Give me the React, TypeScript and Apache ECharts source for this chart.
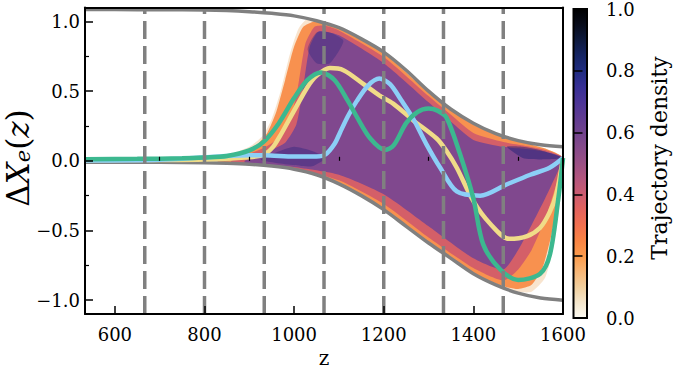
import React, { useEffect, useRef } from 'react';
import * as echarts from 'echarts';

// ---------- data ----------
const xMajor = [600, 800, 1000, 1200, 1400, 1600];
const xMinor = [700, 900, 1100, 1300, 1500];
const yMajor = [-1, -0.5, 0, 0.5, 1];
const yMinor = [-0.75, -0.25, 0.25, 0.75];
const cbTicks = [0, 0.2, 0.4, 0.6, 0.8, 1.0];
const dashZ = [666.7, 800, 933.3, 1066.7, 1200, 1333.3, 1466.7];

const zEnv = [533.3, 600, 700, 800, 850, 900, 950, 1000, 1050, 1100, 1150, 1200, 1250, 1300, 1350, 1400, 1450, 1500, 1550, 1600];
const upperEnv = [1.085, 1.085, 1.084, 1.082, 1.078, 1.07, 1.058, 1.04, 1.005, 0.955, 0.875, 0.78, 0.65, 0.5, 0.37, 0.27, 0.195, 0.145, 0.115, 0.1];
const lowerEnv = [-0.01, -0.01, -0.011, -0.014, -0.018, -0.025, -0.038, -0.06, -0.1, -0.165, -0.25, -0.35, -0.47, -0.59, -0.7, -0.81, -0.89, -0.95, -0.985, -1.0];

const greenCurve = [[533.3, 0.012], [650, 0.014], [750, 0.018], [800, 0.024], [850, 0.035], [900, 0.075], [933, 0.14], [966, 0.27], [1000, 0.45], [1030, 0.58], [1060, 0.634], [1090, 0.58], [1120, 0.43], [1140, 0.315], [1170, 0.16], [1203, 0.078], [1222, 0.11], [1250, 0.27], [1275, 0.35], [1300, 0.375], [1320, 0.36], [1340, 0.31], [1370, 0.05], [1400, -0.27], [1422, -0.6], [1460, -0.78], [1500, -0.855], [1549, -0.81], [1571, -0.67], [1590, -0.26], [1600, 0.02]];
const yellowCurve = [[533.3, 0.004], [700, 0.006], [800, 0.01], [900, 0.025], [933, 0.045], [953, 0.1], [968, 0.175], [1000, 0.36], [1030, 0.53], [1050, 0.61], [1080, 0.665], [1110, 0.65], [1155, 0.55], [1190, 0.47], [1221, 0.41], [1266, 0.29], [1318, 0.16], [1340, 0.07], [1363, -0.05], [1400, -0.29], [1437, -0.45], [1480, -0.56], [1520, -0.54], [1549, -0.48], [1570, -0.37], [1585, -0.24], [1600, 0.02]];
const blueCurve = [[533.3, 0.002], [700, 0.008], [800, 0.025], [850, 0.035], [900, 0.04], [933, 0.04], [1000, 0.03], [1050, 0.03], [1070, 0.045], [1090, 0.12], [1102, 0.2], [1120, 0.32], [1140, 0.43], [1165, 0.54], [1190, 0.59], [1214, 0.55], [1240, 0.43], [1266, 0.3], [1295, 0.12], [1326, -0.05], [1363, -0.22], [1415, -0.25], [1474, -0.17], [1527, -0.1], [1570, -0.05], [1600, 0.02]];

// density regions (outer faint, orange, pink, purple core, dark patches)
const sparseTop = [[800, 0.0], [850, 0.04], [900, 0.1], [930, 0.18], [950, 0.3], [970, 0.5], [990, 0.76], [1010, 0.95], [1030, 1.02], [1067, 0.99], [1100, 0.955], [1200, 0.78], [1300, 0.5], [1400, 0.27], [1467, 0.18], [1520, 0.13], [1560, 0.09], [1600, 0.02]];
const sparseBottom = [[800, -0.012], [900, -0.025], [1000, -0.06], [1100, -0.165], [1200, -0.35], [1300, -0.59], [1400, -0.81], [1467, -0.905], [1500, -0.94], [1530, -0.94], [1560, -0.84], [1580, -0.6], [1595, -0.25], [1600, 0.02]];
const orangeTop = [[830, 0.01], [880, 0.05], [915, 0.11], [940, 0.2], [960, 0.35], [980, 0.58], [1000, 0.82], [1020, 0.96], [1045, 1.0], [1067, 0.985], [1100, 0.95], [1200, 0.772], [1300, 0.493], [1400, 0.263], [1467, 0.173], [1520, 0.125], [1560, 0.088], [1600, 0.02]];
const orangeBottom = [[830, -0.012], [900, -0.025], [1000, -0.06], [1100, -0.165], [1200, -0.35], [1300, -0.59], [1400, -0.81], [1467, -0.9], [1500, -0.92], [1530, -0.89], [1555, -0.76], [1575, -0.52], [1590, -0.26], [1600, 0.02]];
const pinkTop = [[860, 0.0], [900, 0.05], [930, 0.09], [960, 0.15], [990, 0.28], [1008, 0.52], [1025, 0.84], [1045, 0.96], [1067, 0.97], [1100, 0.935], [1200, 0.745], [1300, 0.465], [1350, 0.33], [1400, 0.2], [1467, 0.135], [1520, 0.105], [1560, 0.078], [1600, 0.02]];
const pinkBottom = [[860, -0.02], [950, -0.032], [1000, -0.055], [1100, -0.14], [1200, -0.31], [1300, -0.55], [1400, -0.77], [1467, -0.86], [1500, -0.78], [1530, -0.64], [1560, -0.42], [1582, -0.2], [1600, 0.02]];
const coreTop = [[890, 0.0], [920, 0.04], [950, 0.08], [980, 0.13], [1005, 0.26], [1020, 0.52], [1035, 0.82], [1055, 0.93], [1100, 0.9], [1200, 0.7], [1300, 0.42], [1350, 0.28], [1400, 0.15], [1467, 0.1], [1520, 0.085], [1560, 0.065], [1600, 0.02]];
const coreBottom = [[890, -0.02], [950, -0.03], [1000, -0.045], [1100, -0.1], [1200, -0.24], [1300, -0.47], [1400, -0.7], [1467, -0.78], [1500, -0.64], [1530, -0.46], [1560, -0.27], [1585, -0.1], [1600, 0.02]];
const darkPeakTop = [[1030, 0.8], [1050, 0.92], [1080, 0.92], [1110, 0.86]];
const darkPeakBottom = [[1030, 0.8], [1050, 0.7], [1080, 0.7], [1110, 0.86]];
const darkLowTop = [[925, 0.01], [960, 0.06], [1000, 0.1], [1040, 0.07], [1070, 0.02]];
const darkLowBottom = [[925, 0.01], [960, -0.015], [1000, -0.03], [1040, -0.04], [1070, 0.02]];
const darkRightTop = [[1475, 0.1], [1510, 0.1], [1550, 0.075], [1600, 0.02]];
const darkRightBottom = [[1475, 0.1], [1510, 0.02], [1550, 0.01], [1600, 0.02]];

const FONT = 'DejaVu Serif';

export default function App() {
  const ref = useRef<HTMLDivElement>(null);
  useEffect(() => {
    const chart = echarts.init(ref.current!, null, { renderer: 'svg' });
    const X0 = 533.333, X1 = 1600, Y0 = -1.1, Y1 = 1.1;

    const layers = [
      { top: sparseTop, bottom: sparseBottom, fill: '#f8e3cb', opacity: 0.95 },
      { top: orangeTop, bottom: orangeBottom, fill: '#f8914f', opacity: 1 },
      { top: pinkTop, bottom: pinkBottom, fill: '#d45f68', opacity: 1 },
      { top: coreTop, bottom: coreBottom, fill: '#80488e', opacity: 1 },
      { top: darkPeakTop, bottom: darkPeakBottom, fill: '#33297f', opacity: 0.4 },
      { top: darkLowTop, bottom: darkLowBottom, fill: '#33297f', opacity: 0.45 },
      { top: darkRightTop, bottom: darkRightBottom, fill: '#2a2478', opacity: 0.55 },
    ];

    const cmap = [
      [0.0, '#fbfaf2'], [0.05, '#f4e6cc'], [0.1, '#f1cf9e'], [0.15, '#f7b676'], [0.2, '#fb9b4c'],
      [0.25, '#f98444'], [0.3, '#f2704f'], [0.35, '#e3635d'], [0.4, '#cc5c70'], [0.45, '#b4567e'],
      [0.5, '#9b5085'], [0.55, '#864a8a'], [0.6, '#71438d'], [0.65, '#5f3b92'], [0.7, '#4b3497'],
      [0.75, '#362f95'], [0.8, '#1f2c80'], [0.85, '#152463'], [0.9, '#0e1a3d'], [0.95, '#080c1a'], [1.0, '#000000'],
    ];

    const polyPoints = (top: number[][], bottom: number[][], api: any) => {
      const pts: number[][] = [];
      top.forEach((p) => pts.push(p));
      const rb = bottom.slice().reverse();
      rb.forEach((p, k) => {
        const last = pts[pts.length - 1];
        if (last[0] === p[0] && last[1] === p[1]) return;
        if (k === rb.length - 1 && p[0] === pts[0][0] && p[1] === pts[0][1]) return;
        pts.push(p);
      });
      return pts.map((p) => api.coord(p));
    };

    const axisText = { color: '#000', fontFamily: FONT, fontSize: 18 };
    const fmt = (v: number) => v.toFixed(1).replace('-', '\u2212');

    const option: any = {
      animation: false,
      backgroundColor: '#ffffff',
      grid: [
        { left: 85, top: 7.5, right: 110, bottom: 55, containLabel: false },
        { left: 573.5, top: 7.5, width: 13.5, bottom: 55, containLabel: false },
      ],
      xAxis: [
        {
          gridIndex: 0, type: 'value', min: X0, max: X1, position: 'bottom', z: 10,
          axisLine: { show: true, onZero: false, lineStyle: { color: '#000', width: 2 } },
          axisTick: { show: true, inside: true, length: 8, customValues: xMajor, lineStyle: { color: '#000', width: 1.5 } },
          axisLabel: { show: true, customValues: xMajor, margin: 11, formatter: (v: number) => String(Math.round(v)), ...axisText },
          splitLine: { show: false },
          name: 'z', nameLocation: 'middle', nameGap: 33,
          nameTextStyle: { color: '#000', fontFamily: FONT, fontSize: 20 },
        },
        {
          gridIndex: 0, type: 'value', min: X0, max: X1, position: 'bottom', z: 10,
          axisLine: { show: false },
          axisTick: { show: true, inside: true, length: 4, customValues: xMinor, lineStyle: { color: '#000', width: 1.2 } },
          axisLabel: { show: false }, splitLine: { show: false },
        },
        {
          gridIndex: 0, type: 'value', min: X0, max: X1, position: 'top', z: 10,
          axisLine: { show: true, onZero: false, lineStyle: { color: '#000', width: 2 } },
          axisTick: { show: false }, axisLabel: { show: false }, splitLine: { show: false },
        },
        { gridIndex: 1, type: 'value', min: 0, max: 1, show: false },
      ],
      yAxis: [
        {
          gridIndex: 0, type: 'value', min: Y0, max: Y1, position: 'left', z: 10,
          axisLine: { show: true, onZero: false, lineStyle: { color: '#000', width: 2 } },
          axisTick: { show: true, inside: true, length: 8, customValues: yMajor, lineStyle: { color: '#000', width: 1.5 } },
          axisLabel: { show: true, customValues: yMajor, margin: 5, formatter: fmt, ...axisText },
          splitLine: { show: false },
        },
        {
          gridIndex: 0, type: 'value', min: Y0, max: Y1, position: 'left', z: 10,
          axisLine: { show: false },
          axisTick: { show: true, inside: true, length: 4, customValues: yMinor, lineStyle: { color: '#000', width: 1.2 } },
          axisLabel: { show: false }, splitLine: { show: false },
        },
        {
          gridIndex: 0, type: 'value', min: Y0, max: Y1, position: 'right', z: 10,
          axisLine: { show: true, onZero: false, lineStyle: { color: '#000', width: 2 } },
          axisTick: { show: false }, axisLabel: { show: false }, splitLine: { show: false },
        },
        {
          gridIndex: 1, type: 'value', min: 0, max: 1, position: 'right', z: 10,
          axisLine: { show: false },
          axisTick: { show: true, inside: false, length: 9, customValues: cbTicks, lineStyle: { color: '#000', width: 1.5 } },
          axisLabel: { show: true, customValues: cbTicks, margin: 19, formatter: (v: number) => v.toFixed(1), ...axisText },
          splitLine: { show: false },
        },
      ],
      series: [
        {
          type: 'custom', xAxisIndex: 0, yAxisIndex: 0, z: 1, clip: true, silent: true,
          data: layers.map((_, i) => [1000, 0, i]),
          renderItem: (params: any, api: any) => {
            const l = layers[params.dataIndex];
            return {
              type: 'polygon',
              shape: { points: polyPoints(l.top, l.bottom, api), smooth: 0.2 },
              style: { fill: l.fill, opacity: l.opacity },
            };
          },
        },
        {
          type: 'line', xAxisIndex: 0, yAxisIndex: 0, z: 2, showSymbol: false, symbol: 'none', smooth: 0.3,
          data: zEnv.map((z, i) => [z, upperEnv[i]]),
          lineStyle: { color: '#808080', width: 3.5 },
        },
        {
          type: 'line', xAxisIndex: 0, yAxisIndex: 0, z: 2, showSymbol: false, symbol: 'none', smooth: 0.3,
          data: zEnv.map((z, i) => [z, lowerEnv[i]]),
          lineStyle: { color: '#808080', width: 3.5 },
        },
        {
          type: 'line', xAxisIndex: 0, yAxisIndex: 0, z: 3, showSymbol: false, symbol: 'none', smooth: 0.3,
          data: yellowCurve, lineStyle: { color: '#f0dc88', width: 4.5 },
        },
        {
          type: 'line', xAxisIndex: 0, yAxisIndex: 0, z: 3, showSymbol: false, symbol: 'none', smooth: 0.3,
          data: blueCurve, lineStyle: { color: '#8ccff7', width: 4.5 },
        },
        {
          type: 'line', xAxisIndex: 0, yAxisIndex: 0, z: 3, showSymbol: false, symbol: 'none', smooth: 0.3,
          data: greenCurve, lineStyle: { color: '#3cb88f', width: 4.5 },
        },
        ...dashZ.map((z) => ({
          type: 'line', xAxisIndex: 0, yAxisIndex: 0, z: 4, showSymbol: false, symbol: 'none',
          data: [[z, Y0], [z, Y1]],
          lineStyle: { color: '#808080', width: 3.5, type: [18, 7] },
        })),
        {
          type: 'custom', xAxisIndex: 3, yAxisIndex: 3, z: 1, silent: true,
          data: [[0.5, 0.5]],
          renderItem: (params: any, api: any) => {
            const a = api.coord([0, 1]);
            const b = api.coord([1, 0]);
            return {
              type: 'rect',
              shape: { x: a[0], y: a[1], width: b[0] - a[0], height: b[1] - a[1] },
              style: {
                fill: new echarts.graphic.LinearGradient(0, 1, 0, 0,
                  cmap.map((c) => ({ offset: c[0] as number, color: c[1] as string }))),
                stroke: '#000', lineWidth: 2,
              },
            };
          },
        },
      ],
      graphic: [
        {
          type: 'text', x: 18, y: 158, rotation: Math.PI / 2, z: 20,
          style: {
            text: '{d|Δ}{i|X}{s|e}{n|(}{i|z}{n|)}',
            align: 'center', verticalAlign: 'middle', fill: '#000',
            rich: {
              d: { fontFamily: FONT, fontSize: 31, lineHeight: 30, verticalAlign: 'middle', fill: '#000' },
              i: { fontFamily: FONT, fontSize: 31, fontStyle: 'italic', lineHeight: 30, verticalAlign: 'middle', fill: '#000' },
              s: { fontFamily: FONT, fontSize: 21, fontStyle: 'italic', lineHeight: 18, verticalAlign: 'bottom', fill: '#000' },
              n: { fontFamily: FONT, fontSize: 31, lineHeight: 30, verticalAlign: 'middle', fill: '#000' },
            },
          },
        },
        {
          type: 'text', x: 659, y: 158, rotation: Math.PI / 2, z: 20,
          style: { text: 'Trajectory density', fontFamily: FONT, fontSize: 22, fill: '#000', align: 'center', verticalAlign: 'middle' },
        },
      ],
    };
    chart.setOption(option);
    return () => chart.dispose();
  }, []);
  return <div ref={ref} style={{ position: 'fixed', left: 0, top: 0, width: 673, height: 373 }} />;
}
